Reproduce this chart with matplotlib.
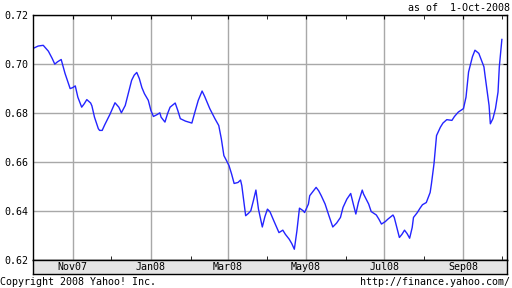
import numpy as np
import pandas as pd
import matplotlib
matplotlib.use("Agg")
import matplotlib.pyplot as plt
import matplotlib.dates as mdates

# dias desde 1-Oct-2007 y cotizacion
start = pd.Timestamp("2007-10-01")
days = [0, 4, 8, 9, 12, 15, 17, 19, 22, 25, 27, 29, 31, 33, 35, 38, 40, 42, 45, 46,
        48, 51, 52, 54, 56, 60, 64, 67, 69, 72, 74, 77, 79, 81, 83, 85, 87, 90, 92, 94,
        97, 99, 100, 103, 105, 107, 111, 113, 115, 119, 124, 126, 129, 132, 134, 138, 142, 145, 147, 149,
        151, 153, 155, 157, 160, 162, 163, 166, 168, 170, 172, 174, 176, 179, 181, 183, 185, 188, 192, 195,
        197, 200, 202, 204, 206, 208, 211, 212, 215, 216, 219, 221, 223, 225, 228, 231, 234, 237, 240, 242,
        245, 248, 250, 252, 254, 257, 258, 262, 264, 268, 270, 272, 275, 277, 281, 282, 284, 286, 288, 290,
        292, 294, 296, 297, 300, 302, 304, 307, 310, 311, 313, 315, 318, 320, 323, 327, 329, 332, 336, 338,
        340, 343, 345, 348, 350, 352, 353, 356, 357, 359, 361, 363, 364, 366]
rate = [0.7063, 0.7073, 0.7076, 0.7070, 0.7052, 0.7022, 0.6999, 0.7008, 0.7018, 0.6961,
        0.6930, 0.6899, 0.6903, 0.6910, 0.6864, 0.6823, 0.6837, 0.6854, 0.6840, 0.6828,
        0.6782, 0.6735, 0.6728, 0.6728, 0.6751, 0.6793, 0.6841, 0.6823, 0.6800, 0.6830,
        0.6871, 0.6933, 0.6954, 0.6965, 0.6940, 0.6903, 0.6878, 0.6851, 0.6810, 0.6785,
        0.6793, 0.6800, 0.6782, 0.6762, 0.6796, 0.6823, 0.6840, 0.6810, 0.6776, 0.6766,
        0.6758, 0.6796, 0.6851, 0.6889, 0.6867, 0.6817, 0.6776, 0.6748, 0.6694, 0.6625,
        0.6605, 0.6584, 0.6550, 0.6511, 0.6515, 0.6525, 0.6502, 0.6379, 0.6388, 0.6399,
        0.6440, 0.6484, 0.6406, 0.6333, 0.6375, 0.6406, 0.6395, 0.6358, 0.6310, 0.6320,
        0.6303, 0.6283, 0.6265, 0.6242, 0.6317, 0.6410, 0.6399, 0.6392, 0.6427, 0.6461,
        0.6481, 0.6495, 0.6481, 0.6461, 0.6427, 0.6379, 0.6333, 0.6349, 0.6372, 0.6413,
        0.6447, 0.6470, 0.6427, 0.6386, 0.6433, 0.6484, 0.6468, 0.6427, 0.6396, 0.6382,
        0.6365, 0.6345, 0.6355, 0.6365, 0.6382, 0.6372, 0.6331, 0.6290, 0.6303, 0.6320,
        0.6306, 0.6287, 0.6331, 0.6372, 0.6392, 0.6409, 0.6424, 0.6433, 0.6474, 0.6509,
        0.6591, 0.6707, 0.6741, 0.6758, 0.6772, 0.6769, 0.6785, 0.6803, 0.6817, 0.6864,
        0.6967, 0.7029, 0.7056, 0.7043, 0.7015, 0.6988, 0.6947, 0.6830, 0.6755, 0.6776,
        0.6817, 0.6885, 0.6988, 0.7100]
yticks = [0.62, 0.64, 0.66, 0.68, 0.70, 0.72]
as_of = "as of  1-Oct-2008"

dates = start + pd.to_timedelta(days, unit="D")
x0, x1 = start, start + pd.Timedelta(days=370)
mono = "DejaVu Sans Mono"

fig = plt.figure(figsize=(5.12, 2.88), dpi=100)
W, H = 512.0, 288.0

# grafico principal
ax = fig.add_axes([33 / W, (H - 259.5) / H, 474 / W, 244.5 / H])
ax.plot(dates, rate, color="#2424ff", lw=1.0)
ax.set_xlim(x0, x1)
ax.set_ylim(0.62, 0.72)
ax.set_yticks(yticks)
ax.set_yticklabels(["%.2f" % v for v in yticks], fontfamily=mono, fontsize=7.2)
ax.xaxis.set_major_locator(mdates.MonthLocator(bymonth=[1, 3, 5, 7, 9, 11]))
ax.xaxis.set_minor_locator(mdates.MonthLocator(bymonth=[2, 4, 6, 8, 10, 12]))
ax.xaxis.set_major_formatter(plt.NullFormatter())
ax.xaxis.set_minor_formatter(plt.NullFormatter())
ax.grid(True, which="major", color="#a8a8a8", lw=1)
ax.tick_params(axis="x", which="major", top=True, bottom=False, direction="in", length=3, color="black")
ax.tick_params(axis="x", which="minor", top=True, bottom=True, direction="in", length=3, color="black")
ax.tick_params(axis="y", left=False, right=True, direction="in", length=3, pad=3)
for s in ax.spines.values():
    s.set_linewidth(1)

# banda de fechas
band = fig.add_axes([33 / W, (H - 273.5) / H, 474 / W, 14 / H])
band.set_facecolor("#e4e4e4")
band.set_xlim(x0, x1)
band.set_yticks([])
band.xaxis.set_major_locator(mdates.MonthLocator(bymonth=[1, 3, 5, 7, 9, 11]))
band.xaxis.set_major_formatter(mdates.DateFormatter("%b%y"))
band.xaxis.set_minor_locator(plt.NullLocator())
band.tick_params(axis="x", length=0, pad=-8.5, labelsize=7.2)
for lab in band.get_xticklabels():
    lab.set_fontfamily(mono)
for s in band.spines.values():
    s.set_linewidth(1)

fig.text(510 / W, 1 - 8 / H, as_of, ha="right", va="center", fontfamily=mono, fontsize=7.2)
fig.text(0, 1 - 282 / H, "Copyright 2008 Yahoo! Inc.", ha="left", va="center", fontfamily=mono, fontsize=7.2)
fig.text(510 / W, 1 - 282 / H, "http://finance.yahoo.com/", ha="right", va="center", fontfamily=mono, fontsize=7.2)

fig.savefig("out.png", dpi=100)
